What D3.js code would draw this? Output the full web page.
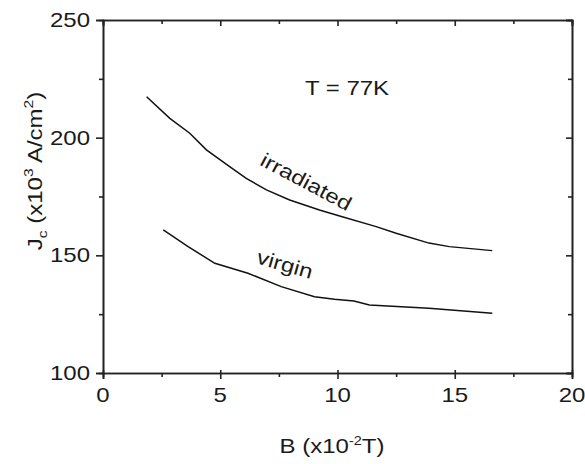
<!DOCTYPE html>
<html><head><meta charset="utf-8">
<script src="https://cdn.jsdelivr.net/npm/d3@7"></script>
<style>body{margin:0;background:#fff}svg{display:block}text{font-family:"Liberation Sans",Arial,sans-serif;fill:#1a1a1a}</style>
</head><body>
<script>
const irradiatedB = [1.86, 2.85, 3.70, 4.41, 5.40, 6.11, 6.97, 7.96, 9.23, 10.2, 11.65, 12.5, 13.9, 14.77, 16.6];
const irradiatedJ = [217.4, 208.2, 201.9, 194.8, 187.7, 182.7, 177.8, 173.5, 169.3, 166.4, 162.2, 159.4, 155.2, 153.7, 152.0];
const virginB = [2.57, 3.63, 4.77, 6.18, 7.6, 9.02, 9.87, 10.7, 11.36, 13.9, 16.6];
const virginJ = [160.8, 153.7, 146.6, 142.4, 136.7, 132.4, 131.3, 130.6, 128.9, 127.5, 125.4];
const xTicks = [0, 5, 10, 15, 20];
const yTicks = [100, 150, 200, 250];
const xMinor = [2.5, 7.5, 12.5, 17.5];
const yMinor = [125, 175, 225];

const W = 585, H = 464;
const svg = d3.select("body").append("svg").attr("width", W).attr("height", H);
const x = d3.scaleLinear().domain([0, 20]).range([103, 572]);
const y = d3.scaleLinear().domain([100, 250]).range([373, 20]);
const SX = 1.2;
const ink = "#222";

function label(txt, cx, cy, anchor, size, rot) {
  const g = svg.append("g").attr("transform", `translate(${cx},${cy}) rotate(${rot||0}) scale(${SX},1)`);
  return g.append("text").attr("text-anchor", anchor).attr("font-size", size).text(txt);
}

// axes
const axB = d3.axisBottom(x).tickValues(xTicks).tickSize(6).tickFormat("");
const axL = d3.axisLeft(y).tickValues(yTicks).tickSize(7).tickFormat("");
const axT = d3.axisTop(x).tickValues(xTicks).tickSize(-6).tickFormat("");
const axR = d3.axisRight(y).tickValues(yTicks).tickSize(-6).tickFormat("");
const gB = svg.append("g").attr("transform", `translate(0,${y(100)})`).call(axB);
svg.append("g").attr("transform", `translate(${x(0)},0)`).call(axL);
svg.append("g").attr("transform", `translate(0,${y(250)})`).call(axT);
svg.append("g").attr("transform", `translate(${x(20)},0)`).call(axR);
svg.append("g").attr("transform", `translate(0,${y(100)})`).call(d3.axisBottom(x).tickValues(xMinor).tickSize(4).tickFormat(""));
svg.append("g").attr("transform", `translate(${x(0)},0)`).call(d3.axisLeft(y).tickValues(yMinor).tickSize(4).tickFormat(""));
svg.append("g").attr("transform", `translate(0,${y(250)})`).call(d3.axisTop(x).tickValues(xMinor).tickSize(-4).tickFormat(""));
svg.append("g").attr("transform", `translate(${x(20)},0)`).call(d3.axisRight(y).tickValues(yMinor).tickSize(-4).tickFormat(""));
svg.selectAll(".domain").attr("stroke", ink).attr("stroke-width", 1.6);
svg.selectAll(".tick line").attr("stroke", ink).attr("stroke-width", 1.6);
gB.selectAll(".tick line").attr("y1", -3).attr("y2", 6);

// tick labels
xTicks.forEach(v => label(String(v), x(v), 402, "middle", 20));
yTicks.forEach(v => label(String(v), 90, y(v) + 7, "end", 20));

// lines
const line = d3.line().x(d => x(d[0])).y(d => y(d[1])).curve(d3.curveLinear);
svg.append("path").datum(d3.zip(irradiatedB, irradiatedJ)).attr("d", line)
  .attr("fill", "none").attr("stroke", "#111").attr("stroke-width", 1.5);
svg.append("path").datum(d3.zip(virginB, virginJ)).attr("d", line)
  .attr("fill", "none").attr("stroke", "#111").attr("stroke-width", 1.5);

// annotations
label("T = 77K", 347, 95, "middle", 20);
label("irradiated", 303, 188, "middle", 20, 28);
label("virgin", 283, 271, "middle", 20, 16);

// axis titles
{
  const g = svg.append("g").attr("transform", `translate(332,453) scale(${SX},1)`);
  const t = g.append("text").attr("text-anchor", "middle").attr("font-size", 20);
  t.append("tspan").text("B (x10");
  t.append("tspan").attr("dy", -8).attr("font-size", 12).text("-2");
  t.append("tspan").attr("dy", 8).text("T)");
}
{
  const g = svg.append("g").attr("transform", `translate(42,171) rotate(-90) scale(${SX},1)`);
  const t = g.append("text").attr("text-anchor", "middle").attr("font-size", 20);
  t.append("tspan").text("J");
  t.append("tspan").attr("dy", 5).attr("font-size", 13).text("c");
  t.append("tspan").attr("dy", -5).text(" (x10");
  t.append("tspan").attr("dy", -9).attr("font-size", 13).text("3");
  t.append("tspan").attr("dy", 9).text(" A/cm");
  t.append("tspan").attr("dy", -9).attr("font-size", 13).text("2");
  t.append("tspan").attr("dy", 9).text(")");
}
</script>
</body></html>
